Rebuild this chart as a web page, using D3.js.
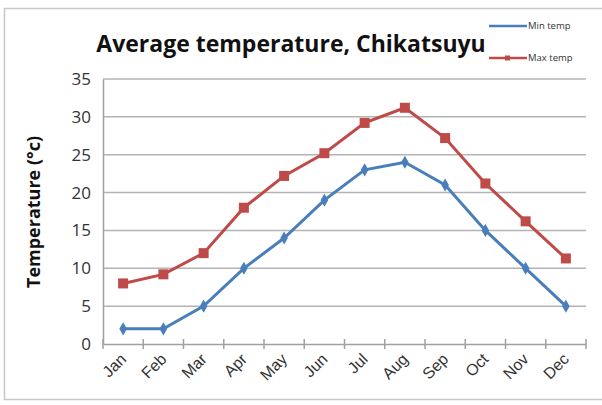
<!DOCTYPE html>
<html>
<head>
<meta charset="utf-8">
<script src="https://cdn.jsdelivr.net/npm/d3@7"></script>
<style>
	body { margin: 0; background: #fff; }
	svg { display: block; font-family: "Open Sans", "DejaVu Sans", sans-serif; }
</style>
</head>
<body>
<svg id="chart" width="602" height="405"></svg>
<script>
const MONTHS = ['Jan', 'Feb', 'Mar', 'Apr', 'May', 'Jun', 'Jul', 'Aug', 'Sep', 'Oct', 'Nov', 'Dec'];
const MIN_TEMP = [2, 2, 5, 10, 14, 19, 23, 24, 21, 15, 10, 5];
const MAX_TEMP = [8, 9.2, 12, 18, 22.2, 25.2, 29.2, 31.2, 27.2, 21.2, 16.2, 11.3];
const Y_TICKS = [0, 5, 10, 15, 20, 25, 30, 35];

const svg = d3.select('#chart');

// outer frame
svg.append('rect')
	.attr('x', 4.5).attr('y', 8.5)
	.attr('width', 610).attr('height', 391)
	.attr('fill', 'none')
	.attr('stroke', '#c8c8c8')
	.attr('stroke-width', 1.5);

const plot = { left: 103, right: 586, top: 79, bottom: 344 };

const x = d3.scaleBand()
	.domain(MONTHS)
	.range([plot.left, plot.right]);

const y = d3.scaleLinear()
	.domain([0, 35])
	.range([plot.bottom, plot.top]);

// gridlines
svg.append('g')
	.selectAll('line')
	.data(Y_TICKS.slice(1))
	.enter()
	.append('line')
		.attr('x1', plot.left).attr('x2', plot.right)
		.attr('y1', d => y(d)).attr('y2', d => y(d))
		.attr('stroke', '#b4b4b4')
		.attr('stroke-width', 1.5);

// y axis
const yAxis = svg.append('g')
	.attr('transform', `translate(${plot.left},0)`)
	.call(d3.axisLeft(y).tickValues(Y_TICKS).tickSize(0).tickPadding(12));
yAxis.select('.domain').attr('stroke', '#a0a0a0').attr('stroke-width', 1.5);
yAxis.selectAll('text')
	.attr('font-size', 17)
	.attr('fill', '#333')
	.attr('font-family', '"Open Sans", sans-serif');

// x axis
const xAxis = svg.append('g')
	.attr('transform', `translate(0,${plot.bottom})`)
	.call(d3.axisBottom(x).tickSize(0));
xAxis.select('.domain').attr('stroke', '#a0a0a0').attr('stroke-width', 1.5);
xAxis.selectAll('text')
	.attr('font-size', 16)
	.attr('fill', '#333')
	.attr('text-anchor', 'end')
	.attr('dy', 0)
	.attr('transform', 'translate(2,14) rotate(-45)');

// tick marks between categories
const bounds = MONTHS.map(m => x(m)).concat([plot.right]);
svg.append('g')
	.selectAll('line')
	.data(bounds)
	.enter()
	.append('line')
		.attr('x1', d => d).attr('x2', d => d)
		.attr('y1', plot.bottom - 5).attr('y2', plot.bottom + 5)
		.attr('stroke', '#a0a0a0')
		.attr('stroke-width', 1.5);

const cx = m => x(m) + x.bandwidth() / 2;

const line = d3.line()
	.x((d, i) => cx(MONTHS[i]))
	.y(d => y(d));

// min temp
svg.append('path')
	.datum(MIN_TEMP)
	.attr('d', line)
	.attr('fill', 'none')
	.attr('stroke', '#4a7ebb')
	.attr('stroke-width', 3);
svg.append('g')
	.selectAll('path')
	.data(MIN_TEMP)
	.enter()
	.append('path')
		.attr('d', d3.symbol(d3.symbolDiamond, 50))
		.attr('transform', (d, i) => `translate(${cx(MONTHS[i])},${y(d)})`)
		.attr('fill', '#4a7ebb');

// max temp
svg.append('path')
	.datum(MAX_TEMP)
	.attr('d', line)
	.attr('fill', 'none')
	.attr('stroke', '#be4b48')
	.attr('stroke-width', 3);
svg.append('g')
	.selectAll('rect')
	.data(MAX_TEMP)
	.enter()
	.append('rect')
		.attr('x', (d, i) => cx(MONTHS[i]) - 5)
		.attr('y', d => y(d) - 5)
		.attr('width', 10).attr('height', 10)
		.attr('fill', '#be4b48');

// title
svg.append('text')
	.attr('x', 291).attr('y', 52)
	.attr('text-anchor', 'middle')
	.attr('font-size', 23)
	.attr('font-weight', 'bold')
	.attr('fill', '#111')
	.text('Average temperature, Chikatsuyu');

// y label
svg.append('text')
	.attr('transform', 'translate(40,212) rotate(-90)')
	.attr('text-anchor', 'middle')
	.attr('font-size', 18)
	.attr('font-weight', 'bold')
	.attr('fill', '#111')
	.text('Temperature (°c)');

// legend
const legend = [
	{ name: 'Min temp', color: '#4a7ebb', y: 26, square: false },
	{ name: 'Max temp', color: '#be4b48', y: 58, square: true }
];
const lg = svg.append('g');
lg.selectAll('line')
	.data(legend)
	.enter()
	.append('line')
		.attr('x1', 489).attr('x2', 527)
		.attr('y1', d => d.y).attr('y2', d => d.y)
		.attr('stroke', d => d.color)
		.attr('stroke-width', 2.5);
lg.selectAll('rect')
	.data(legend.filter(d => d.square))
	.enter()
	.append('rect')
		.attr('x', 505).attr('y', d => d.y - 2.5)
		.attr('width', 5).attr('height', 5)
		.attr('fill', d => d.color);
lg.selectAll('text')
	.data(legend)
	.enter()
	.append('text')
		.attr('x', 528).attr('y', d => d.y + 3)
		.attr('font-size', 9.5)
		.attr('fill', '#333')
		.text(d => d.name);
</script>
</body>
</html>
